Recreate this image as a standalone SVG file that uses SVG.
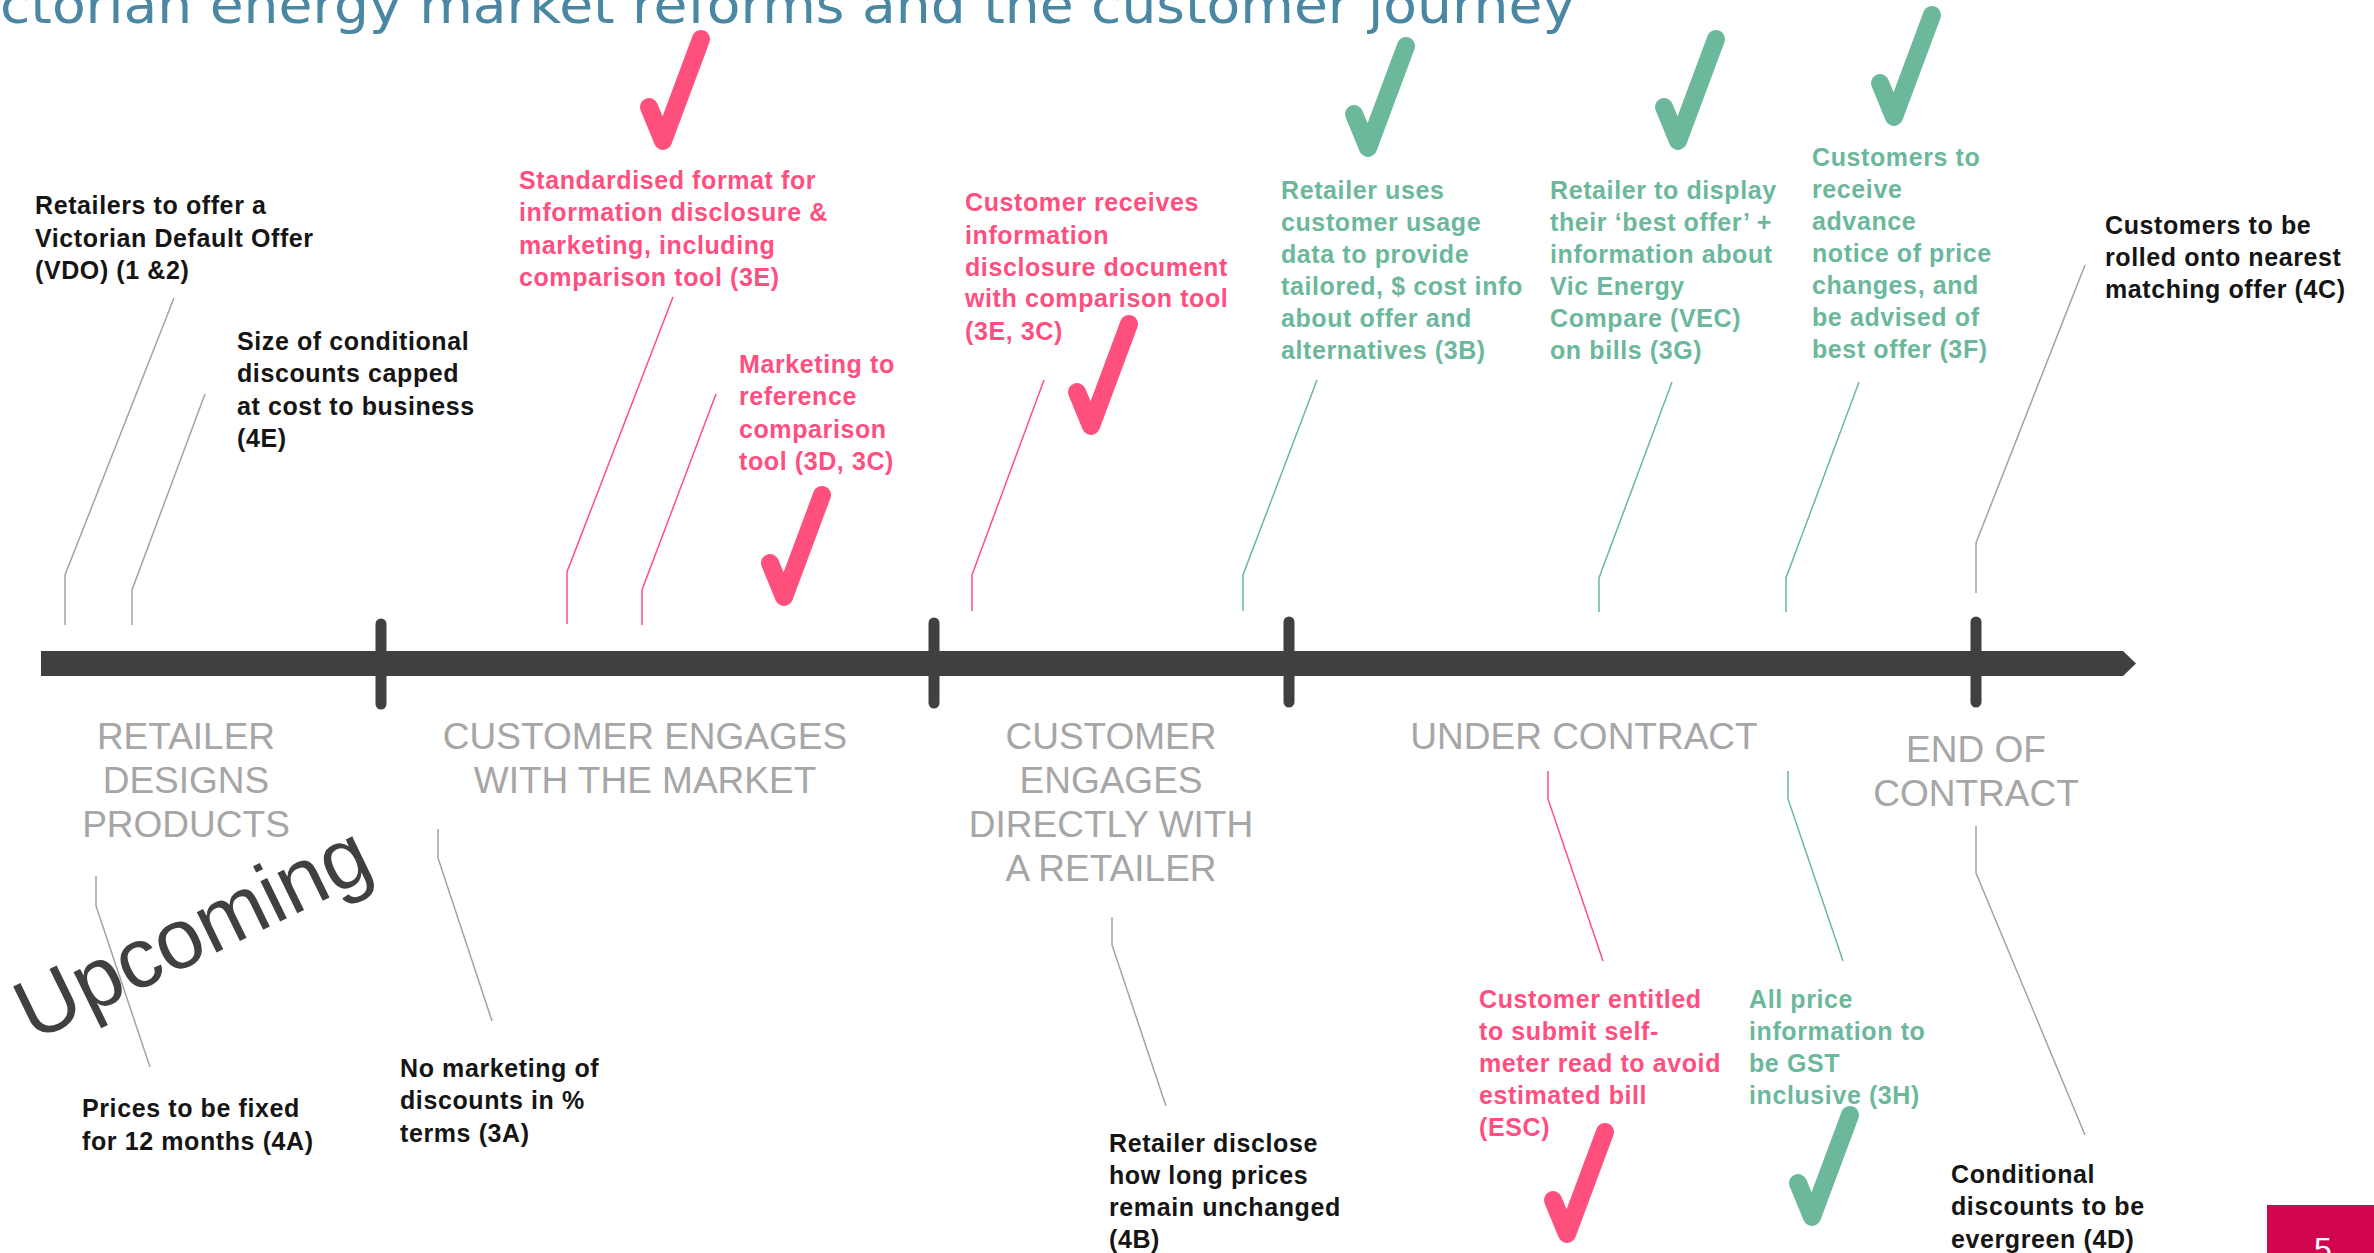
<svg xmlns="http://www.w3.org/2000/svg" xmlns:xlink="http://www.w3.org/1999/xlink" width="2374" height="1253" viewBox="0 0 2374 1253">
  <style>
    .title { font-family: "DejaVu Sans", "Liberation Sans", sans-serif; font-size: 52px; fill: #4A87A3; }
    .t { font-family: "Liberation Sans", Arial, sans-serif; font-weight: bold; font-size: 25px; letter-spacing: 0.6px; }
    .k { fill: #151515; }
    .p { fill: #FF4F80; }
    .g { fill: #6BB89B; }
    .stage { font-family: "Liberation Sans", Arial, sans-serif; font-size: 37px; fill: #A6A6A6; text-anchor: middle; }
    .lead { fill: none; stroke-width: 1.5; }
    .lk { stroke: #A3A3A3; }
    .lp { stroke: #FF4F80; }
    .lg { stroke: #6BB89B; }
    .tick { stroke: #404040; stroke-width: 11; stroke-linecap: round; }
    .ck { fill: none; stroke-width: 18; stroke-linecap: round; stroke-linejoin: round; }
    .ckp { stroke: #FF4F7C; }
    .ckg { stroke: #6BB89B; }
  </style>
  <defs>
    <path id="check" d="M0,0 l14,34 l38,-102"/>
  </defs>

  <rect width="2374" height="1253" fill="#FFFFFF"/>

  <!-- heading -->
  <text class="title" x="0" y="23" textLength="1575" lengthAdjust="spacingAndGlyphs">ctorian energy market reforms and the customer journey</text>

  <!-- timeline axis -->
  <g id="timeline">
    <polygon points="41,651 2123,651 2136,663.5 2123,676 41,676" fill="#404040"/>
    <line class="tick" x1="381" y1="624" x2="381" y2="704"/>
    <line class="tick" x1="934" y1="623" x2="934" y2="703"/>
    <line class="tick" x1="1289" y1="622" x2="1289" y2="702"/>
    <line class="tick" x1="1976" y1="622" x2="1976" y2="702"/>
  </g>

  <!-- stage labels -->
  <g id="stage-design">
    <text class="stage" x="186" y="749">RETAILER</text>
    <text class="stage" x="186" y="793">DESIGNS</text>
    <text class="stage" x="186" y="837">PRODUCTS</text>
  </g>
  <g id="stage-market">
    <text class="stage" x="645" y="749">CUSTOMER ENGAGES</text>
    <text class="stage" x="645" y="793">WITH THE MARKET</text>
  </g>
  <g id="stage-retailer">
    <text class="stage" x="1111" y="749">CUSTOMER</text>
    <text class="stage" x="1111" y="793">ENGAGES</text>
    <text class="stage" x="1111" y="837">DIRECTLY WITH</text>
    <text class="stage" x="1111" y="881">A RETAILER</text>
  </g>
  <g id="stage-contract">
    <text class="stage" x="1584" y="749">UNDER CONTRACT</text>
  </g>
  <g id="stage-end">
    <text class="stage" x="1976" y="762">END OF</text>
    <text class="stage" x="1976" y="806">CONTRACT</text>
  </g>

  <!-- leader lines -->
  <g id="connectors">
    <polyline class="lead lk" points="174,298 65,575 65,625"/>
    <polyline class="lead lk" points="205,394 132,590 132,625"/>
    <polyline class="lead lp" points="673,297 567,572 567,624"/>
    <polyline class="lead lp" points="716,394 642,590 642,625"/>
    <polyline class="lead lp" points="1044,380 972,575 972,611"/>
    <polyline class="lead lg" points="1317,380 1243,575 1243,611"/>
    <polyline class="lead lg" points="1672,382 1599,578 1599,612"/>
    <polyline class="lead lg" points="1859,382 1786,578 1786,612"/>
    <polyline class="lead lk" points="2085,265 1976,543 1976,593"/>
    <polyline class="lead lk" points="96,876 96,906 150,1067"/>
    <polyline class="lead lk" points="438,829 438,858 492,1021"/>
    <polyline class="lead lk" points="1112,917 1112,945 1166,1106"/>
    <polyline class="lead lp" points="1548,771 1548,799 1603,961"/>
    <polyline class="lead lg" points="1788,771 1788,799 1843,961"/>
    <polyline class="lead lk" points="1976,826 1976,873 2085,1135"/>
  </g>

  <!-- items above the axis -->
  <g id="vdo">
    <text class="t k"><tspan x="35" y="214">Retailers to offer a</tspan><tspan x="35" y="247">Victorian Default Offer</tspan><tspan x="35" y="279">(VDO) (1 &amp;2)</tspan></text>
  </g>
  <g id="discount-cap">
    <text class="t k"><tspan x="237" y="350">Size of conditional</tspan><tspan x="237" y="382">discounts capped</tspan><tspan x="237" y="415">at cost to business</tspan><tspan x="237" y="447">(4E)</tspan></text>
  </g>
  <g id="standard-format">
    <use href="#check" xlink:href="#check" class="ck ckp" x="649" y="107"/>
    <text class="t p"><tspan x="519" y="189">Standardised format for</tspan><tspan x="519" y="221">information disclosure &amp;</tspan><tspan x="519" y="254">marketing, including</tspan><tspan x="519" y="286">comparison tool (3E)</tspan></text>
  </g>
  <g id="marketing-reference">
    <text class="t p"><tspan x="739" y="373">Marketing to</tspan><tspan x="739" y="405">reference</tspan><tspan x="739" y="438">comparison</tspan><tspan x="739" y="470">tool (3D, 3C)</tspan></text>
    <use href="#check" xlink:href="#check" class="ck ckp" x="770" y="563"/>
  </g>
  <g id="disclosure-document">
    <text class="t p"><tspan x="965" y="211">Customer receives</tspan><tspan x="965" y="244">information</tspan><tspan x="965" y="276">disclosure document</tspan><tspan x="965" y="307">with comparison tool</tspan><tspan x="965" y="340">(3E, 3C)</tspan></text>
    <use href="#check" xlink:href="#check" class="ck ckp" x="1077" y="392"/>
  </g>
  <g id="usage-data">
    <use href="#check" xlink:href="#check" class="ck ckg" x="1354" y="114"/>
    <text class="t g"><tspan x="1281" y="199">Retailer uses</tspan><tspan x="1281" y="231">customer usage</tspan><tspan x="1281" y="263">data to provide</tspan><tspan x="1281" y="295">tailored, $ cost info</tspan><tspan x="1281" y="327">about offer and</tspan><tspan x="1281" y="359">alternatives (3B)</tspan></text>
  </g>
  <g id="best-offer-bills">
    <use href="#check" xlink:href="#check" class="ck ckg" x="1664" y="107"/>
    <text class="t g"><tspan x="1550" y="199">Retailer to display</tspan><tspan x="1550" y="231">their &#8216;best offer&#8217; +</tspan><tspan x="1550" y="263">information about</tspan><tspan x="1550" y="295">Vic Energy</tspan><tspan x="1550" y="327">Compare (VEC)</tspan><tspan x="1550" y="359">on bills (3G)</tspan></text>
  </g>
  <g id="advance-notice">
    <use href="#check" xlink:href="#check" class="ck ckg" x="1880" y="83"/>
    <text class="t g"><tspan x="1812" y="166">Customers to</tspan><tspan x="1812" y="198">receive</tspan><tspan x="1812" y="230">advance</tspan><tspan x="1812" y="262">notice of price</tspan><tspan x="1812" y="294">changes, and</tspan><tspan x="1812" y="326">be advised of</tspan><tspan x="1812" y="358">best offer (3F)</tspan></text>
  </g>
  <g id="roll-over">
    <text class="t k"><tspan x="2105" y="234">Customers to be</tspan><tspan x="2105" y="266">rolled onto nearest</tspan><tspan x="2105" y="298">matching offer (4C)</tspan></text>
  </g>

  <!-- items below the axis -->
  <g id="upcoming">
    <text x="33" y="1042" transform="rotate(-26 33 1042)" font-family="Liberation Sans, Arial, sans-serif" font-size="85" fill="#404040">Upcoming</text>
  </g>
  <g id="fixed-prices">
    <text class="t k"><tspan x="82" y="1117">Prices to be fixed</tspan><tspan x="82" y="1150">for 12 months (4A)</tspan></text>
  </g>
  <g id="no-percent">
    <text class="t k"><tspan x="400" y="1077">No marketing of</tspan><tspan x="400" y="1109">discounts in %</tspan><tspan x="400" y="1142">terms (3A)</tspan></text>
  </g>
  <g id="price-duration">
    <text class="t k"><tspan x="1109" y="1152">Retailer disclose</tspan><tspan x="1109" y="1184">how long prices</tspan><tspan x="1109" y="1216">remain unchanged</tspan><tspan x="1109" y="1248">(4B)</tspan></text>
  </g>
  <g id="self-read">
    <text class="t p"><tspan x="1479" y="1008">Customer entitled</tspan><tspan x="1479" y="1040">to submit self-</tspan><tspan x="1479" y="1072">meter read to avoid</tspan><tspan x="1479" y="1104">estimated bill</tspan><tspan x="1479" y="1136">(ESC)</tspan></text>
    <use href="#check" xlink:href="#check" class="ck ckp" x="1553" y="1200"/>
  </g>
  <g id="gst">
    <text class="t g"><tspan x="1749" y="1008">All price</tspan><tspan x="1749" y="1040">information to</tspan><tspan x="1749" y="1072">be GST</tspan><tspan x="1749" y="1104">inclusive (3H)</tspan></text>
    <use href="#check" xlink:href="#check" class="ck ckg" x="1798" y="1183"/>
  </g>
  <g id="evergreen">
    <text class="t k"><tspan x="1951" y="1183">Conditional</tspan><tspan x="1951" y="1215">discounts to be</tspan><tspan x="1951" y="1248">evergreen (4D)</tspan></text>
  </g>

  <!-- page number -->
  <g id="page-number">
    <rect x="2267" y="1205" width="107" height="48" fill="#D0044F"/>
    <text x="2323" y="1260" font-family="Liberation Sans, Arial, sans-serif" font-size="32" fill="#FFFFFF" text-anchor="middle">5</text>
  </g>
</svg>
